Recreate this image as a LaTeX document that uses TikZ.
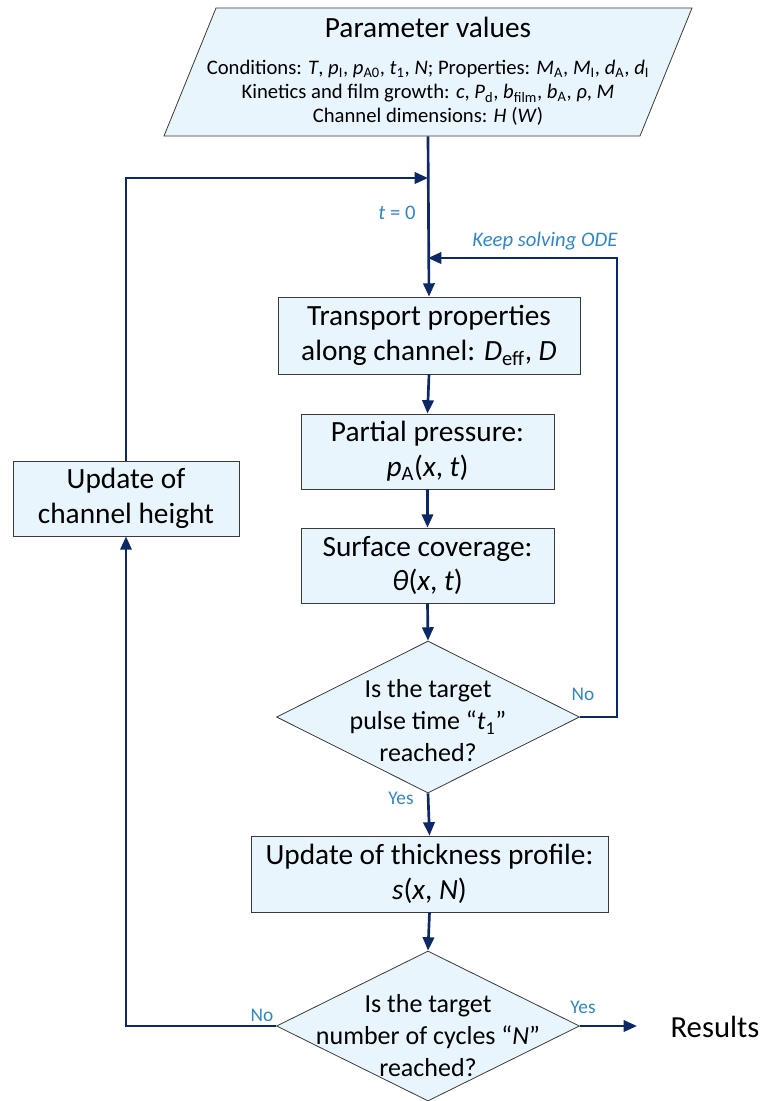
\documentclass[tikz,border=0pt]{standalone}
\usepackage{fontspec}
\setmainfont{Carlito}
\usetikzlibrary{shapes.geometric,arrows.meta}
\definecolor{fillb}{HTML}{E8F5FD}
\definecolor{navy}{HTML}{0C2866}
\definecolor{lbl}{HTML}{2F86C9}
\definecolor{bord}{HTML}{3A3A3A}
\newcommand{\vi}[1]{\textit{#1}}
\newcommand{\sbs}[1]{\textsubscript{#1}}
\begin{document}
\begin{tikzpicture}[x=0.75pt,y=-0.75pt,
  box/.style={draw=bord, fill=fillb, line width=0.6pt, inner sep=0pt, align=center,
    font=\fontsize{22}{26}\selectfont},
  dia/.style={diamond, draw=bord, fill=fillb, line width=0.6pt, inner sep=0pt},
  dtext/.style={align=center, inner sep=0pt, font=\fontsize{19.5}{24}\selectfont},
  arr/.style={draw=navy, line width=2pt, -{Triangle[length=10pt,width=8.5pt]}},
  lab/.style={text=lbl, inner sep=0pt, font=\fontsize{14.5}{16}\selectfont}]
\useasboundingbox (0,0) rectangle (763,1101);

% parameter parallelogram
\coordinate (ptl) at (216,8);
\coordinate (ptr) at (692,8);
\coordinate (pbr) at (640,136);
\coordinate (pbl) at (164,136);
\draw[draw=bord, fill=fillb, line width=0.6pt] (ptl) -- (ptr) -- (pbr) -- (pbl) -- cycle;
\node[minimum width=300pt, minimum height=96pt, inner sep=0pt] (params) at (428,72) {};
\node[inner sep=0pt, font=\fontsize{22}{26}\selectfont] (ptitle) at (428,27) {Parameter values};
\node[inner sep=0pt, align=center, font=\fontsize{15.5}{18}\selectfont] (pdet) at (428,93)
  {Conditions: \vi{T}, \vi{p}\sbs{I}, \vi{p}\sbs{A0}, \vi{t}\sbs{1}, \vi{N}; Properties: \vi{M}\sbs{A}, \vi{M}\sbs{I}, \vi{d}\sbs{A}, \vi{d}\sbs{I}\\
   Kinetics and film growth: \vi{c}, \vi{P}\sbs{d}, \vi{b}\sbs{film}, \vi{b}\sbs{A}, \vi{ρ}, \vi{M}\\
   Channel dimensions: \vi{H} (\vi{W})};

% boxes
\node[box, minimum width=226.5pt, minimum height=57.75pt] (b1) at (429,335.5)
  {Transport properties\\along channel: \vi{D}\sbs{eff}, \vi{D}};
\node[box, minimum width=189.75pt, minimum height=56.25pt] (b2) at (427.5,451.5)
  {Partial pressure:\\\vi{p}\sbs{A}(\vi{x}, \vi{t})};
\node[box, minimum width=189.75pt, minimum height=56.25pt] (b3) at (427.5,565.5)
  {Surface coverage:\\\vi{θ}(\vi{x}, \vi{t})};
\node[dia, minimum width=227.25pt, minimum height=114pt] (d1) at (428,717) {};
\node[dtext] (d1t) at (428,721) {Is the target\\pulse time “\vi{t}\sbs{1}”\\reached?};
\node[box, minimum width=267.75pt, minimum height=57pt] (b4) at (429.5,874)
  {Update of thickness profile:\\\vi{s}(\vi{x}, \vi{N})};
\node[dia, minimum width=227.25pt, minimum height=112.5pt] (d2) at (428,1026) {};
\node[dtext] (d2t) at (428,1036) {Is the target\\number of cycles “\vi{N}”\\reached?};
\node[box, minimum width=169.5pt, minimum height=56.25pt] (upd) at (126,498.5)
  {Update of\\channel height};
\node[inner sep=0pt, font=\fontsize{23}{26}\selectfont] (res) at (715,1027) {Results};

% junction coordinates
\coordinate (j1) at (428,178);
\coordinate (j2) at (428,258);
\coordinate (k) at (617,717);
\coordinate (r) at (637,1026);

% connectors
\draw[arr] (params.south) -- (b1.north);
\draw[arr] (b1.south) -- (b2.north);
\draw[arr] (b2.south) -- (b3.north);
\draw[arr] (b3.south) -- (d1.north);
\draw[arr] (d1.south) -- (b4.north);
\draw[arr] (b4.south) -- (d2.north);
\draw[arr] (d1.east) -- (k) |- (j2);
\draw[arr] (d2.west) -| (upd.south);
\draw[arr] (upd.north) |- (j1);
\draw[arr] (d2.east) -- (r);

% labels
\node[lab, font=\fontsize{15.5}{18}\selectfont] (t0) at (397,213) {\vi{t} = 0};
\node[lab, font=\fontsize{15.5}{18}\selectfont] (kso) at (545,241) {\vi{Keep solving ODE}};
\node[lab] (no1) at (583,694) {No};
\node[lab] (yes1) at (401,798) {Yes};
\node[lab] (no2) at (262,1015) {No};
\node[lab] (yes2) at (583,1007) {Yes};
\end{tikzpicture}
\end{document}
